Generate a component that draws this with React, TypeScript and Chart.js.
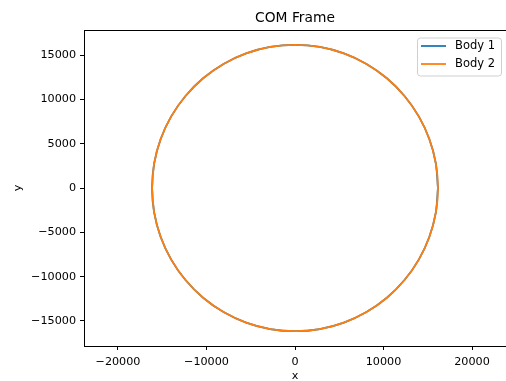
import React, { useEffect, useRef } from "react";
import { Chart, registerables } from "chart.js";

Chart.register(...registerables);

const title = "COM Frame";
const xLabel = "x";
const yLabel = "y";
const seriesNames = ["Body 1", "Body 2"];
const seriesColors = ["#1f77b4", "#ff7f0e"];

// Orbit points (circle of radius ~16150 around the origin)
const body1X = [16150, 15905, 15176, 13986, 12372, 10381, 8075, 5524, 2804, 0, -2804, -5524, -8075, -10381, -12372, -13986, -15176, -15905, -16150, -15905, -15176, -13986, -12372, -10381, -8075, -5524, -2804, 0, 2804, 5524, 8075, 10381, 12372, 13986, 15176, 15905, 16150];
const body1Y = [0, 2804, 5524, 8075, 10381, 12372, 13986, 15176, 15905, 16150, 15905, 15176, 13986, 12372, 10381, 8075, 5524, 2804, 0, -2804, -5524, -8075, -10381, -12372, -13986, -15176, -15905, -16150, -15905, -15176, -13986, -12372, -10381, -8075, -5524, -2804, 0];
const body2X = [-16150, -15905, -15176, -13986, -12372, -10381, -8075, -5524, -2804, 0, 2804, 5524, 8075, 10381, 12372, 13986, 15176, 15905, 16150, 15905, 15176, 13986, 12372, 10381, 8075, 5524, 2804, 0, -2804, -5524, -8075, -10381, -12372, -13986, -15176, -15905, -16150];
const body2Y = [0, -2804, -5524, -8075, -10381, -12372, -13986, -15176, -15905, -16150, -15905, -15176, -13986, -12372, -10381, -8075, -5524, -2804, 0, 2804, 5524, 8075, 10381, 12372, 13986, 15176, 15905, 16150, 15905, 15176, 13986, 12372, 10381, 8075, 5524, 2804, 0];

const xTicks = [-20000, -10000, 0, 10000, 20000];
const yTicks = [-15000, -10000, -5000, 0, 5000, 10000, 15000];
const xRange = [-23840, 23840];
const yRange = [-17820, 17820];

const FONT = "'DejaVu Sans', sans-serif";

const fmt = (v: number) => (v < 0 ? "\u2212" + Math.abs(v) : String(v));

const decorPlugin = {
  id: "decor",
  afterDraw(chart: any) {
    const { ctx, chartArea } = chart;
    const { left, right, top } = chartArea;
    ctx.save();
    // top spine
    ctx.strokeStyle = "#000";
    ctx.lineWidth = 1;
    ctx.beginPath();
    ctx.moveTo(left, Math.round(top) + 0.5);
    ctx.lineTo(right, Math.round(top) + 0.5);
    ctx.stroke();
    // title
    ctx.fillStyle = "#000";
    ctx.font = `13.8px ${FONT}`;
    ctx.textAlign = "center";
    ctx.textBaseline = "middle";
    ctx.fillText(title, (left + right) / 2, 18);
    // legend
    const bx = 417.5, by = 38, bw = 84, bh = 38, r = 3;
    ctx.beginPath();
    ctx.moveTo(bx + r, by);
    ctx.lineTo(bx + bw - r, by);
    ctx.arcTo(bx + bw, by, bx + bw, by + r, r);
    ctx.lineTo(bx + bw, by + bh - r);
    ctx.arcTo(bx + bw, by + bh, bx + bw - r, by + bh, r);
    ctx.lineTo(bx + r, by + bh);
    ctx.arcTo(bx, by + bh, bx, by + bh - r, r);
    ctx.lineTo(bx, by + r);
    ctx.arcTo(bx, by, bx + r, by, r);
    ctx.closePath();
    ctx.fillStyle = "rgba(255,255,255,0.8)";
    ctx.fill();
    ctx.strokeStyle = "#d0d0d0";
    ctx.lineWidth = 1;
    ctx.stroke();
    const rows = [46, 64];
    seriesNames.forEach((name, i) => {
      ctx.strokeStyle = seriesColors[i];
      ctx.lineWidth = 1.8;
      ctx.beginPath();
      ctx.moveTo(421, rows[i]);
      ctx.lineTo(446, rows[i]);
      ctx.stroke();
      ctx.fillStyle = "#000";
      ctx.font = `11.5px ${FONT}`;
      ctx.textAlign = "left";
      ctx.textBaseline = "middle";
      ctx.fillText(name, 455, rows[i] + 0.5);
    });
    ctx.restore();
  },
};

export default function App() {
  const ref = useRef<HTMLCanvasElement | null>(null);
  useEffect(() => {
    document.body.style.margin = "0";
    const canvas = ref.current!;
    const mk = (xs: number[], ys: number[]) => xs.map((x, i) => ({ x, y: ys[i] }));
    const chart = new Chart(canvas, {
      type: "scatter",
      data: {
        datasets: [
          {
            label: seriesNames[0],
            data: mk(body1X, body1Y),
            borderColor: seriesColors[0],
            backgroundColor: seriesColors[0],
            showLine: true,
            pointRadius: 0,
            borderWidth: 1.8,
            tension: 0.335,
            order: 1,
          },
          {
            label: seriesNames[1],
            data: mk(body2X, body2Y),
            borderColor: seriesColors[1],
            backgroundColor: seriesColors[1],
            showLine: true,
            pointRadius: 0,
            borderWidth: 1.8,
            tension: 0.335,
            order: 0,
          },
        ],
      },
      options: {
        responsive: false,
        animation: false,
        layout: { padding: { top: 30, right: 0, left: 0, bottom: 0 } },
        plugins: {
          legend: { display: false },
          title: { display: false },
          tooltip: { enabled: false },
        },
        scales: {
          x: {
            type: "linear",
            min: xRange[0],
            max: xRange[1],
            afterFit: (s: any) => {
              s.height = 35;
            },
            afterBuildTicks: (s: any) => {
              s.ticks = xTicks.map((v) => ({ value: v }));
            },
            ticks: {
              callback: (v: any) => fmt(Number(v)),
              font: { family: FONT, size: 11.2 },
              color: "#000",
              padding: 5,
              maxRotation: 0,
              autoSkip: false,
            },
            grid: {
              drawOnChartArea: false,
              drawTicks: true,
              tickLength: 4,
              color: "#000",
            },
            border: { display: true, color: "#000", width: 1 },
            title: {
              display: true,
              text: xLabel,
              font: { family: FONT, size: 11.2 },
              color: "#000",
              padding: { top: 0, bottom: -2 },
            },
          },
          y: {
            type: "linear",
            min: yRange[0],
            max: yRange[1],
            afterFit: (s: any) => {
              s.width = 84;
            },
            afterBuildTicks: (s: any) => {
              s.ticks = yTicks.map((v) => ({ value: v }));
            },
            ticks: {
              callback: (v: any) => fmt(Number(v)),
              font: { family: FONT, size: 11.2 },
              color: "#000",
              padding: 4,
              autoSkip: false,
            },
            grid: {
              drawOnChartArea: false,
              drawTicks: true,
              tickLength: 4,
              color: "#000",
            },
            border: { display: true, color: "#000", width: 1 },
            title: {
              display: true,
              text: yLabel,
              font: { family: FONT, size: 11.2 },
              color: "#000",
              padding: { top: 11, bottom: 0 },
            },
          },
        },
      },
      plugins: [decorPlugin],
    } as any);
    return () => chart.destroy();
  }, []);
  return <canvas ref={ref} width={506} height={381} style={{ display: "block" }} />;
}
